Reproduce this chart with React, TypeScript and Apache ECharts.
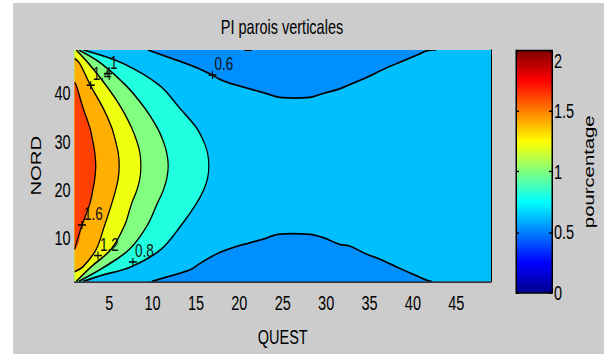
import React, { useEffect, useRef } from "react";
import * as echarts from "echarts";

// The reference screenshot is stretched vertically; the chart is drawn in an
// unstretched frame and stretched by the same factor.
const STRETCH = 1.4;
const WIDTH = 604;
const HEIGHT = 354 / STRETCH;
const FONT = "'Liberation Sans', Arial, sans-serif";

const titleText = "PI parois verticales";
const xName = "QUEST";
const yName = "NORD";
const colorbarName = "pourcentage";

const xMin = 1;
const xMax = 49;
const yMin = 1;
const yMax = 49;
const xTickValues = [5, 10, 15, 20, 25, 30, 35, 40, 45];
const yTickValues = [10, 20, 30, 40];
const colorbarMin = 0;
const colorbarMax = 2;
const colorbarStep = 0.5;

const contourLevels = [0.6, 0.8, 1.0, 1.2, 1.4, 1.6];

// contour lines, [QUEST, NORD]
const c06Top = [
  [9.46, 49], [13.26, 46.57], [15.44, 45.05], [16.9, 43.8], [17.74, 42.92],
  [19.24, 41.93], [21.2, 40.94], [23.12, 39.95], [24.65, 39.15], [28.1, 39.15],
  [29.6, 39.95], [31.55, 40.94], [32.7, 41.81], [34.62, 43.26], [36.5, 44.91],
  [38.46, 46.44], [40.38, 47.88], [41.68, 48.88], [42.68, 49],
];
const c06Bottom = [
  [9.92, 1], [11.99, 2.09], [14.29, 3.38], [15.44, 4.71], [17.36, 6.69],
  [19.24, 8.0], [21.2, 9.0], [23.12, 9.99], [24.42, 10.78], [28.1, 10.78],
  [29.6, 10.13], [31.55, 8.68], [32.7, 8.34], [34.62, 6.69], [36.5, 5.37],
  [38.46, 3.72], [40.38, 2.19], [41.91, 1.06], [42.2, 1],
];
const c06TopEdge = [[20.6, 49], [21.4, 49]];
const c08 = [
  [2.0, 49], [6.6, 46.2], [10.85, 41.6], [13.1, 37.0], [15.0, 33.0], [15.9, 30.0],
  [16.35, 27.5], [16.48, 25], [16.35, 22.5], [15.9, 20.0], [15.0, 17.0], [13.3, 12.65],
  [10.99, 7.69], [7.54, 4.04], [4.2, 2.3], [2.0, 1],
];
const c10 = [
  [1.5, 49], [4.08, 46.2], [6.96, 41.6], [9.08, 37.0], [10.5, 33.0], [11.25, 30.0],
  [11.65, 27.5], [11.8, 25], [11.65, 22.5], [11.25, 20.0], [10.5, 17.0], [9.4, 12.65],
  [7.35, 7.69], [4.48, 4.04], [1.5, 1],
];
const c12 = [
  [1.2, 49], [2.63, 46.2], [4.66, 41.6], [6.39, 37.0], [7.55, 33.0], [8.2, 30.0],
  [8.55, 27.5], [8.65, 25], [8.55, 22.5], [8.2, 20.0], [7.55, 17.0], [6.78, 12.65],
  [5.23, 7.69], [2.93, 4.04], [1.2, 1],
];
const c14 = [
  [1, 47.3], [1.6, 46.2], [2.86, 41.6], [4.28, 37.0], [5.27, 33.0], [5.75, 30.0],
  [6.05, 27.5], [6.15, 25], [6.05, 22.5], [5.75, 20.0], [5.27, 17.0], [4.48, 12.65],
  [3.51, 7.69], [1.98, 4.04], [1, 3.0],
];
const c16 = [
  [1, 42.3], [1.21, 41.6], [1.98, 37.0], [2.75, 33.0], [3.12, 30.0], [3.35, 27.5],
  [3.45, 25], [3.35, 22.5], [3.12, 20.0], [2.75, 17.0], [1.86, 12.65], [1, 7.6],
];

const labelTexts = ["1", "1.4", "0.6", "1.6", "1.2", "0.8"];
const labelPoints = [
  [4.85, 44.1], [2.86, 41.7], [16.9, 43.8], [1.86, 12.7], [3.7, 6.36], [7.73, 5.03],
];

const jetStops = [
  { offset: 0, color: "rgb(0,0,143)" },
  { offset: 0.125, color: "rgb(0,0,255)" },
  { offset: 0.375, color: "rgb(0,255,255)" },
  { offset: 0.625, color: "rgb(255,255,0)" },
  { offset: 0.875, color: "rgb(255,0,0)" },
  { offset: 1, color: "rgb(128,0,0)" },
];

const SMOOTH = 0.35;

export default function App() {
  const ref = useRef<HTMLDivElement>(null);
  useEffect(() => {
    if (!ref.current) return;
    const chart = echarts.init(ref.current, null, { renderer: "svg" });

    // closing points lie outside the plot (clipped away)
    const outL = [[xMin - 11, yMin - 11], [xMin - 11, yMax + 11]];
    const regions = [
      { pts: [[xMin, yMin], [xMax, yMin], [xMax, yMax], [xMin, yMax]], color: "#00bfff", smooth: 0 },
      { pts: [...c06Top, [xMax + 5, yMax + 11], [xMin - 5, yMax + 11]], color: "#008fff", smooth: SMOOTH },
      { pts: [...c06Bottom, [xMax + 5, yMin - 11], [xMin - 5, yMin - 11]], color: "#008fff", smooth: SMOOTH },
      { pts: [...c08, ...outL], color: "#20ffdf", smooth: SMOOTH },
      { pts: [...c10, ...outL], color: "#80ff80", smooth: SMOOTH },
      { pts: [...c12, ...outL], color: "#efff10", smooth: SMOOTH },
      { pts: [...c14, ...outL], color: "#ffaf00", smooth: SMOOTH },
      { pts: [...c16, ...outL], color: "#ff4000", smooth: SMOOTH },
    ];
    const lines = [c06Top, c06Bottom, c06TopEdge, c08, c10, c12, c14, c16];
    const txt = { fontFamily: FONT, fontSize: 14.5, color: "#000", fontWeight: "normal" as const };

    const clipOf = (params: any) => ({
      type: "rect",
      shape: { x: params.coordSys.x, y: params.coordSys.y, width: params.coordSys.width, height: params.coordSys.height },
    });

    chart.setOption({
      animation: false,
      backgroundColor: "#cccccc",
      title: {
        text: titleText,
        left: 282,
        top: 11.5,
        textAlign: "center",
        padding: 0,
        textStyle: { ...txt },
      },
      graphic: [
        { type: "rect", shape: { x: 0, y: 0, width: 13, height: HEIGHT }, style: { fill: "#ffffff" }, silent: true },
        { type: "rect", shape: { x: 0, y: 0, width: WIDTH, height: 3 / STRETCH }, style: { fill: "#ffffff" }, silent: true },
      ],
      grid: [
        { left: 74.5, top: 50 / STRETCH, width: 416.5, height: 242 / STRETCH, containLabel: false },
        {
          left: 516, top: 50.5 / STRETCH, width: 36, height: 242.5 / STRETCH,
          show: true, borderColor: "#000", borderWidth: 1, backgroundColor: "transparent", z: 5,
        },
      ],
      xAxis: [
        {
          gridIndex: 0, type: "value", min: xMin, max: xMax, z: 6,
          axisLine: { show: true, lineStyle: { color: "#000", width: 1 } },
          axisTick: { show: false },
          splitLine: { show: false },
          axisLabel: { customValues: xTickValues, margin: 8, ...txt },
          name: xName, nameLocation: "middle", nameGap: 32,
          nameTextStyle: { ...txt },
        },
        { gridIndex: 1, type: "category", data: ["colorbar"], show: false },
      ],
      yAxis: [
        {
          gridIndex: 0, type: "value", min: yMin, max: yMax,
          axisLine: { show: false }, axisTick: { show: false }, splitLine: { show: false },
          axisLabel: { customValues: yTickValues, margin: 4, ...txt },
          name: yName, nameLocation: "middle", nameRotate: 90, nameGap: 28,
          nameTextStyle: { ...txt },
        },
        {
          gridIndex: 0, type: "value", position: "right", min: yMin, max: yMax, z: 6,
          axisLine: { show: true, lineStyle: { color: "#000", width: 1 } },
          axisTick: { show: false }, axisLabel: { show: false }, splitLine: { show: false },
        },
        {
          gridIndex: 1, type: "value", position: "left", min: colorbarMin, max: colorbarMax, interval: colorbarStep, z: 6,
          axisLine: { show: true, lineStyle: { color: "#000", width: 1 } },
          axisTick: { show: true, inside: true, length: 3, lineStyle: { color: "#000" } },
          axisLabel: { show: false }, splitLine: { show: false },
        },
        {
          gridIndex: 1, type: "value", position: "right", min: colorbarMin, max: colorbarMax, interval: colorbarStep, z: 6,
          axisLine: { show: true, lineStyle: { color: "#000", width: 1 } },
          axisTick: { show: true, inside: true, length: 3, lineStyle: { color: "#000" } },
          axisLabel: { margin: 2, verticalAlignMaxLabel: "top", ...txt },
          splitLine: { show: false },
          name: colorbarName, nameLocation: "middle", nameRotate: 90, nameGap: 30,
          nameTextStyle: { ...txt },
        },
      ],
      series: [
        {
          type: "custom", name: "fills", xAxisIndex: 0, yAxisIndex: 0, z: 2, clip: true, silent: true,
          data: regions.map(() => [xMin, yMin]),
          renderItem: (params: any, api: any) => {
            const r = regions[params.dataIndex];
            return {
              type: "group",
              clipPath: clipOf(params),
              children: [
                {
                  type: "polygon",
                  shape: { points: r.pts.map((p) => api.coord(p)), smooth: r.smooth },
                  style: { fill: r.color, stroke: r.color, lineWidth: 0.6 },
                },
              ],
            };
          },
        },
        {
          type: "custom", name: "contours", xAxisIndex: 0, yAxisIndex: 0, z: 3, clip: true, silent: true,
          data: lines.map(() => [xMin, yMin]),
          renderItem: (params: any, api: any) => {
            const l = lines[params.dataIndex];
            return {
              type: "group",
              clipPath: clipOf(params),
              children: [
                {
                  type: "polyline",
                  shape: { points: l.map((p) => api.coord(p)), smooth: SMOOTH },
                  style: { stroke: "#000", lineWidth: 1.25, fill: "none" },
                },
              ],
            };
          },
        },
        {
          type: "custom", name: "labels", xAxisIndex: 0, yAxisIndex: 0, z: 4, silent: true,
          data: labelPoints,
          renderItem: (params: any, api: any) => {
            const c = api.coord([api.value(0), api.value(1)]);
            const hv = 4;
            const vv = 4 / STRETCH;
            return {
              type: "group",
              children: [
                { type: "line", shape: { x1: c[0] - hv, y1: c[1], x2: c[0] + hv, y2: c[1] }, style: { stroke: "#000", lineWidth: 1.1 } },
                { type: "line", shape: { x1: c[0], y1: c[1] - vv, x2: c[0], y2: c[1] + vv }, style: { stroke: "#000", lineWidth: 1.1 } },
                {
                  type: "text", x: c[0] + 2, y: c[1] - 1.5,
                  style: {
                    text: labelTexts[params.dataIndex], fill: "#111", fontSize: 13.5, fontFamily: FONT,
                    align: "left", verticalAlign: "bottom",
                  },
                },
              ],
            };
          },
        },
        {
          type: "bar", name: "colorbar", xAxisIndex: 1, yAxisIndex: 3, z: 1, silent: true,
          data: [colorbarMax], barWidth: "100%",
          itemStyle: { color: new echarts.graphic.LinearGradient(0, 1, 0, 0, jetStops) },
        },
      ],
    });
    return () => chart.dispose();
  }, []);

  return (
    <div style={{ position: "absolute", left: 0, top: 0, width: 604, height: 354, overflow: "hidden", background: "#fff" }}>
      <div
        ref={ref}
        style={{ width: WIDTH, height: HEIGHT, transform: `scaleY(${STRETCH})`, transformOrigin: "0 0" }}
      />
    </div>
  );
}
